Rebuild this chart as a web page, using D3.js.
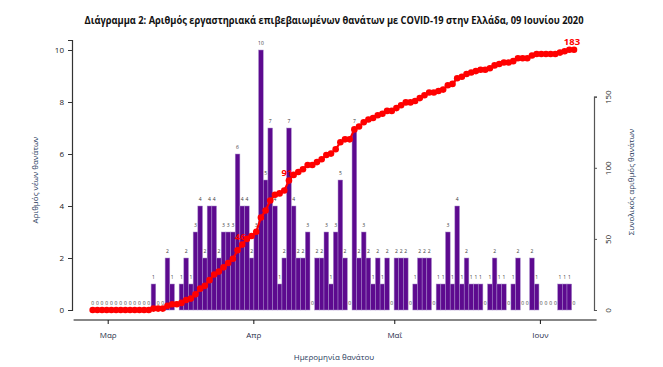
<!DOCTYPE html>
<html><head><meta charset="utf-8">
<script src="https://cdn.jsdelivr.net/npm/d3@7"></script>
<style>body{margin:0;background:#fff}svg{display:block}text{font-family:"Open Sans","Noto Sans",sans-serif}</style>
</head><body><svg id="c" width="663" height="367"></svg>
<script>
// ---- data ----
const startDate = "2020-02-27";
const endDate = "2020-06-09";
const dailyDeaths = [0,0,0,0,0,0,0,0,0,0,0,0,0,
 1,0,0,2,1,0,1,2,1,3,
 4,2,4,4,2,3,3,3,6,4,
 4,2,3,10,5,7,4,1,2,7,
 4,2,2,3,0,2,2,3,1,3,
 5,2,0,7,2,3,2,1,2,1,
 2,0,2,2,2,0,1,2,2,2,
 0,1,1,3,1,4,1,2,1,1,
 1,0,1,2,1,1,0,1,2,0,
 0,2,1,0,0,0,0,1,1,1,
 0];
const cumulativeDeaths = [0,0,0,0,0,0,0,0,0,0,0,0,0,
 1,1,1,3,4,4,5,7,8,11,
 15,17,21,25,27,30,33,36,42,46,
 50,52,55,65,70,77,81,82,84,91,
 95,97,99,102,102,104,106,109,110,113,
 118,120,120,127,129,132,134,135,137,138,
 140,140,142,144,146,146,147,149,151,153,
 153,154,155,158,159,163,164,166,167,168,
 169,169,170,172,173,174,174,175,177,177,
 177,179,180,180,180,180,180,181,182,183,
 183];
const annotatedDates = ["2020-03-30","2020-04-09","2020-06-09"];
const monthTicks = ["2020-03-01","2020-04-01","2020-05-01","2020-06-01"];
const monthLabels = ["Μαρ","Απρ","Μαΐ","Ιουν"];
const leftTicks = [0,2,4,6,8,10];
const rightTicks = [0,50,100,150];
const title = "Διάγραμμα 2: Αριθμός εργαστηριακά επιβεβαιωμένων θανάτων με COVID-19 στην Ελλάδα, 09 Ιουνίου 2020";

// ---- setup ----
const parse = d3.utcParse("%Y-%m-%d");
const dates = d3.utcDay.range(parse(startDate), d3.utcDay.offset(parse(endDate), 1));
const rows = dates.map((d,i)=>({date:d, daily:dailyDeaths[i], cum:cumulativeDeaths[i]}));
const svg = d3.select("#c");
svg.append("rect").attr("width",663).attr("height",367).attr("fill","#fff");

const x = d3.scaleBand().domain(dates.map(d=>+d)).range([90.35, 576.35]).padding(0);
const xAxisScale = d3.scaleUtc().domain([parse(monthTicks[0]), parse(monthTicks[3])]).range([107.7, 539.9]);
const yL = d3.scaleLinear().domain([0, 10.385]).range([310, 40]);
const yR = d3.scaleLinear().domain([0, 150]).range([310, 96.7]);
const cx = d => x(+d) + x.bandwidth()/2;

// title
svg.append("text").attr("x",334).attr("y",24).attr("text-anchor","middle")
  .attr("font-size",11).attr("font-weight","bold").attr("fill","#111")
  .attr("textLength",499).attr("lengthAdjust","spacingAndGlyphs").text(title);

// bars
svg.append("g").selectAll("rect").data(rows).join("rect")
  .attr("x", d=>x(+d.date)).attr("width", x.bandwidth())
  .attr("y", d=>yL(d.daily)).attr("height",d=>yL(0)-yL(d.daily))
  .attr("fill","#5d0a8f").attr("stroke","#a88ccb").attr("stroke-width",0.5);

// bar labels
svg.append("g").selectAll("text").data(rows).join("text")
  .attr("x", d=>cx(d.date)).attr("y",d=>yL(d.daily)-5)
  .attr("text-anchor","middle").attr("font-size",5).attr("fill","#3a3a3a")
  .text(d=>d.daily);

// cumulative line
const line = d3.line().x(d=>cx(d.date)).y(d=>yR(d.cum));
svg.append("path").datum(rows).attr("d",line).attr("fill","none").attr("stroke","#ff0000").attr("stroke-width",2.2);
svg.append("g").selectAll("circle").data(rows).join("circle")
  .attr("cx",d=>cx(d.date)).attr("cy",d=>yR(d.cum)).attr("r",3.3).attr("fill","#ff0000");

// annotations
const annRows = rows.filter(r=>annotatedDates.some(a=>+parse(a)===+r.date));
svg.append("g").selectAll("text").data(annRows).join("text")
  .attr("x",d=>cx(d.date)-2)
  .attr("y",d=>yR(d.cum)-5)
  .attr("text-anchor","middle").attr("font-size",9.5).attr("font-weight","bold").attr("fill","#ff0000")
  .text(d=>d.cum);

// left axis
const gL = svg.append("g").attr("transform","translate(72,0)")
  .call(d3.axisLeft(yL).tickValues(leftTicks).tickSizeOuter(0).tickSize(4).tickPadding(4));
gL.select(".domain").attr("stroke","#333").attr("stroke-width",1.2);
gL.selectAll(".tick line").attr("stroke","#333");
gL.selectAll(".tick text").attr("font-size",8).attr("fill","#222").attr("font-family","Open Sans");

// right axis
const gR = svg.append("g").attr("transform","translate(594,0)")
  .call(d3.axisRight(yR).tickValues(rightTicks).tickSizeOuter(0).tickSize(3).tickPadding(4));
gR.select(".domain").attr("stroke","#555").attr("stroke-width",1.2);
gR.selectAll(".tick line").attr("stroke","#555");
gR.selectAll(".tick text").attr("font-size",8).attr("fill","#222").attr("font-family","Open Sans")
  .attr("transform","rotate(-90)")
  .attr("x",0).attr("dy",0).attr("y",17).attr("text-anchor","middle");

// bottom axis
const gX = svg.append("g").attr("transform","translate(0,320)")
  .call(d3.axisBottom(xAxisScale).tickValues(monthTicks.map(parse)).tickSize(4).tickPadding(8)
  .tickFormat((d,i)=>monthLabels[i]));
gX.select(".domain").remove();
gX.append("line").attr("x1",73.6).attr("x2",596.6).attr("stroke","#111").attr("stroke-width",1.2);
gX.selectAll(".tick line").attr("stroke","#111");
gX.selectAll(".tick text").attr("font-size",8).attr("fill","#1e2b48").attr("font-family","Open Sans");

// axis titles
svg.append("text").attr("transform","translate(38,180) rotate(-90)").attr("text-anchor","middle")
  .attr("font-size",8).attr("fill","#26375a").text("Αριθμός νέων θανάτων");
svg.append("text").attr("transform","translate(634,182) rotate(-90)").attr("text-anchor","middle")
  .attr("font-size",8).attr("fill","#26375a").text("Συνολικός αριθμός θανάτων");
svg.append("text").attr("x",334).attr("y",360).attr("text-anchor","middle")
  .attr("font-size",8).attr("fill","#26375a").text("Ημερομηνία θανάτου");
</script></body></html>
